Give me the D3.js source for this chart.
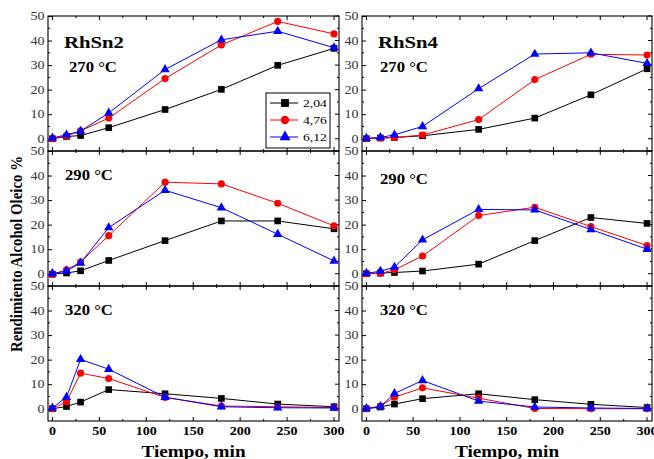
<!DOCTYPE html>
<html>
<head>
<meta charset="utf-8">
<script src="https://cdn.jsdelivr.net/npm/d3@7"></script>
<style>
  body { margin: 0; background: #fff; }
  svg { display: block; }
</style>
</head>
<body>
<div id="canvas"></div>
<script>
// reaction time (min) and the three series (catalyst loadings)
const times = [0, 15, 30, 60, 120, 180, 240, 300];
const loadings = ["2,04", "4,76", "6,12"];
const catalysts = ["RhSn2", "RhSn4"];
const temps = ["270 °C", "290 °C", "320 °C"];
const xTicks = [0, 50, 100, 150, 200, 250, 300];
const yTicks = [0, 10, 20, 30, 40, 50];

// yield % per panel, one row per loading
const rhsn2_270 = [
  [0, 0.9, 1.3, 4.5, 11.9, 20.1, 29.9, 36.8],
  [0, 1.1, 3.2, 8.4, 24.5, 38.2, 47.8, 42.7],
  [0.3, 1.6, 3.1, 10.5, 28.2, 40.3, 43.8, 37.1]
];
const rhsn4_270 = [
  [0, 0.3, 0.5, 1.2, 3.8, 8.4, 17.9, 28.5],
  [0, 0.3, 0.5, 1.5, 7.8, 24.1, 34.4, 34.1],
  [0.2, 0.5, 1.6, 5.0, 20.4, 34.5, 35.0, 30.7]
];
const rhsn2_290 = [
  [-0.2, 0.3, 1.2, 5.4, 13.5, 21.5, 21.5, 18.3],
  [-0.3, 1.6, 4.8, 15.5, 37.3, 36.6, 28.7, 19.5],
  [0.1, 1.1, 4.4, 18.8, 34.0, 26.9, 16.1, 5.2]
];
const rhsn4_290 = [
  [0, 0.3, 0.5, 1.1, 3.9, 13.5, 22.9, 20.5],
  [0, 0.1, 1.6, 7.2, 23.7, 27.1, 19.2, 11.5],
  [0.2, 1.0, 2.7, 13.8, 26.2, 26.0, 18.0, 10.0]
];
const rhsn2_320 = [
  [0, 0.9, 2.7, 7.8, 6.1, 4.2, 1.9, 0.8],
  [0, 2.8, 14.5, 12.3, 4.6, 1.1, 0.8, 0.5],
  [0.3, 4.7, 20.1, 16.1, 4.7, 0.8, 0.4, 0.3]
];
const rhsn4_320 = [
  [0, 0.7, 1.9, 4.1, 6.1, 3.7, 1.8, 0.5],
  [0, 1.1, 4.7, 8.5, 4.3, 0.1, 0, 0],
  [0.1, 0.9, 6.2, 11.5, 3.1, 0.7, 0.3, 0.1]
];

const panelData = [
  [rhsn2_270, rhsn4_270],
  [rhsn2_290, rhsn4_290],
  [rhsn2_320, rhsn4_320]
];

const width = 654, height = 459;
const serif = "'Liberation Serif','Times New Roman',serif";
const SX = 1.2; // the original text is stretched horizontally
const colors = ["#000000", "#ff0000", "#0000ff"];
const symbols = [d3.symbolSquare, d3.symbolCircle, d3.symbolTriangle];
const symSize = [44, 40, 38];

const cols = [{ x: 48, w: 291 }, { x: 362, w: 290 }];
const rows = [16, 151, 286];
const ph = 135;

const svg = d3.select("#canvas").append("svg")
  .attr("width", width).attr("height", height)
  .style("font-family", serif);

const y = d3.scaleLinear().domain([-5, 50]).range([ph, 0]);

function txt(g, x, yy, s, size, weight, anchor) {
  return g.append("text")
    .attr("transform", `translate(${x},${yy}) scale(${SX},1)`)
    .attr("font-size", size)
    .attr("font-weight", weight)
    .attr("text-anchor", anchor || "start")
    .attr("fill", "#000")
    .text(s);
}

rows.forEach((top, r) => {
  cols.forEach((c, ci) => {
    const x = d3.scaleLinear().domain([-4.7, 305.3]).range([0, c.w]);
    const g = svg.append("g").attr("transform", `translate(${c.x},${top})`);

    // y axis, ticks inward
    const ya = g.append("g").call(d3.axisLeft(y).tickValues(yTicks).tickSize(-4).tickPadding(3));
    ya.select(".domain").remove();
    ya.selectAll("text")
      .attr("font-family", serif).attr("font-size", 11.7)
      .attr("fill", "#333")
      .attr("transform", `scale(${SX},1)`);
    g.append("g").selectAll("line").data(d3.range(5, 50, 10)).join("line")
      .attr("x1", 0).attr("x2", 2).attr("y1", d => y(d)).attr("y2", d => y(d))
      .attr("stroke", "#000");
    // right side ticks
    g.append("g").selectAll("line").data(d3.range(0, 55, 5)).join("line")
      .attr("x1", c.w).attr("x2", d => c.w - (d % 10 ? 2 : 4))
      .attr("y1", d => y(d)).attr("y2", d => y(d))
      .attr("stroke", "#000");

    // x ticks on top and bottom, inward
    const xt = d3.range(0, 325, 25);
    g.append("g").selectAll("line").data(xt).join("line")
      .attr("x1", d => x(d)).attr("x2", d => x(d))
      .attr("y1", 0).attr("y2", d => d % 50 ? 2 : 4)
      .attr("stroke", "#000");
    g.append("g").selectAll("line").data(xt).join("line")
      .attr("x1", d => x(d)).attr("x2", d => x(d))
      .attr("y1", ph).attr("y2", d => ph - (d % 50 ? 2 : 4))
      .attr("stroke", "#000");

    if (r === rows.length - 1) {
      const xa = g.append("g").attr("transform", `translate(0,${ph})`)
        .call(d3.axisBottom(x).tickValues(xTicks).tickSize(0).tickPadding(6));
      xa.select(".domain").remove();
      xa.selectAll("text")
        .attr("font-family", serif).attr("font-size", 11.7)
        .attr("font-weight", "bold").attr("fill", "#000")
        .attr("transform", `scale(${SX},1)`)
        .attr("x", function () { return 0; });
      xa.selectAll(".tick").attr("transform", d => `translate(${x(d)},0)`);
      txt(g, c.w / 2, ph + 36, "Tiempo, min", 16, "bold", "middle");
    }

    // frame
    g.append("rect").attr("width", c.w).attr("height", ph)
      .attr("fill", "none").attr("stroke", "#000").attr("stroke-width", 1.1);

    // series
    const line = d3.line().x((d, i) => x(times[i])).y(d => y(d));
    panelData[r][ci].forEach((vals, si) => {
      g.append("path").datum(vals).attr("d", line)
        .attr("fill", "none").attr("stroke", colors[si]).attr("stroke-width", 1);
      g.append("g").selectAll("path").data(vals).join("path")
        .attr("transform", (d, i) => `translate(${x(times[i])},${y(d)})`)
        .attr("d", d3.symbol().type(symbols[si]).size(symSize[si]))
        .attr("fill", colors[si]);
    });

    // panel labels
    if (r === 0) {
      txt(g, 16, 32, catalysts[ci], 17.3, "bold");
      txt(g, ci ? 18 : 21, 56, temps[r], 13.9, "bold");
    } else {
      txt(g, ci ? 18 : 17, r === 1 && ci ? 33 : 29, temps[r], 13.9, "bold");
    }

    // legend in the first panel
    if (r === 0 && ci === 0) {
      const lg = g.append("g").attr("transform", "translate(218,77)");
      lg.append("rect").attr("width", 64).attr("height", 55)
        .attr("fill", "#fff").attr("stroke", "#000").attr("stroke-width", 1);
      loadings.forEach((l, si) => {
        const ly = 10 + si * 17;
        lg.append("line").attr("x1", 4).attr("x2", 32).attr("y1", ly).attr("y2", ly)
          .attr("stroke", colors[si]).attr("stroke-width", 1);
        lg.append("path").attr("transform", `translate(19,${ly})`)
          .attr("d", d3.symbol().type(symbols[si]).size(symSize[si] * 1.4))
          .attr("fill", colors[si]);
        txt(lg, 37, ly + 4, l, 11.4, "normal");
      });
    }
  });
});

// shared y title
svg.append("text")
  .attr("transform", "translate(22,254) rotate(-90) scale(0.85,1)")
  .attr("text-anchor", "middle")
  .attr("font-size", 17.5).attr("font-weight", "bold")
  .text("Rendimiento Alcohol Oleico %");
</script>
</body>
</html>
